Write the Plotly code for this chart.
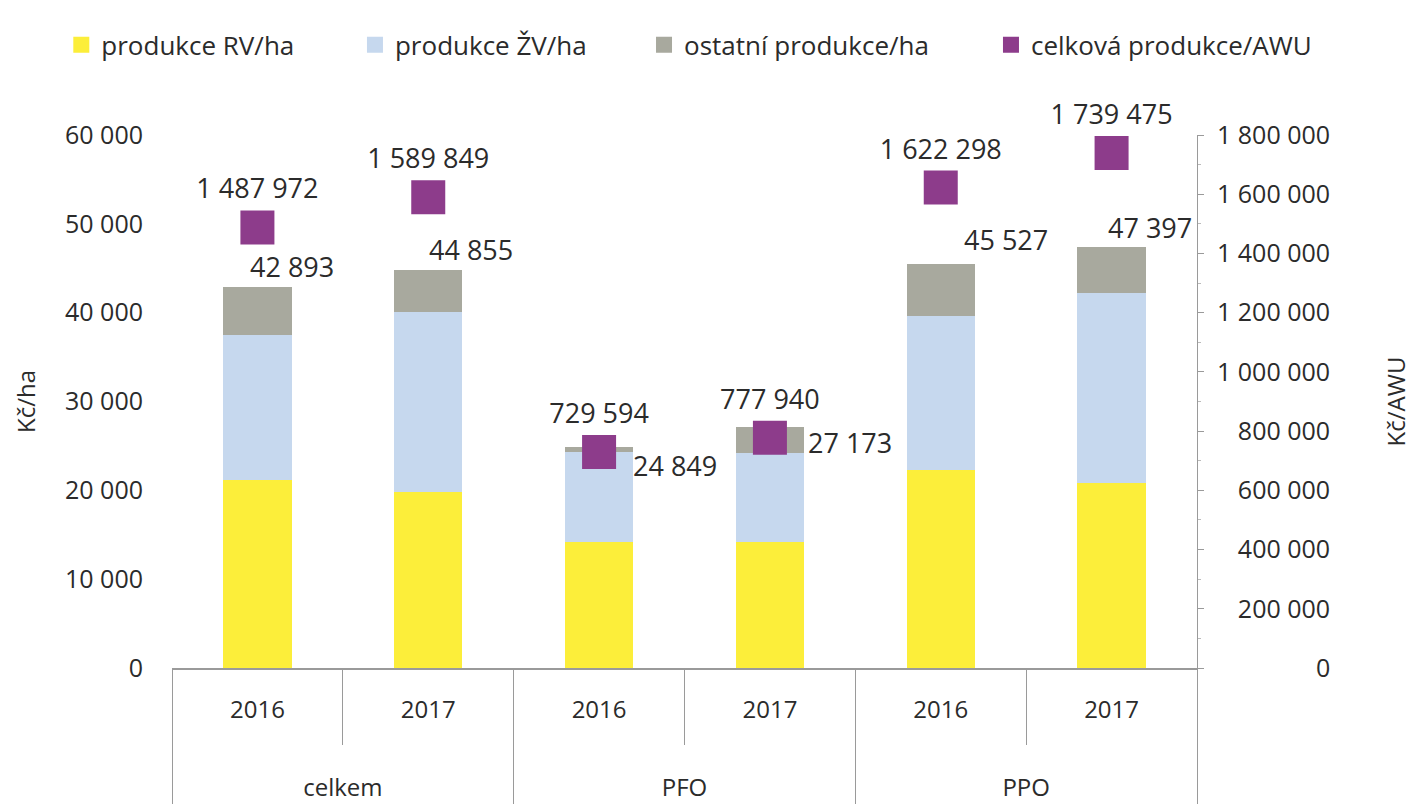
import plotly.graph_objects as go

groups = ["celkem", "celkem", "PFO", "PFO", "PPO", "PPO"]
years = ["2016", "2017", "2016", "2017", "2016", "2017"]

rv_ha = [21200, 19800, 14200, 14200, 22300, 20800]
zv_ha = [16300, 20300, 10100, 10000, 17300, 21400]
other_ha = [5393, 4755, 549, 2973, 5927, 5197]
total_ha = [42893, 44855, 24849, 27173, 45527, 47397]
total_awu = [1487972, 1589849, 729594, 777940, 1622298, 1739475]

series_names = ["produkce RV/ha", "produkce ŽV/ha", "ostatní produkce/ha", "celková produkce/AWU"]
series_colors = ["#fcee3a", "#c6d8ee", "#a8a99e", "#8d3c8b"]

left_ticks = [0, 10000, 20000, 30000, 40000, 50000, 60000]
right_ticks = [0, 200000, 400000, 600000, 800000, 1000000, 1200000, 1400000, 1600000, 1800000]

FONT = "Open Sans"
TXT = "#2b2b2b"


def fmt(v):
    return f"{v:,}".replace(",", " ")


def pad(s, width):
    n_digits = sum(c.isdigit() for c in s)
    n_sp = s.count(" ")
    tgt_d = sum(c.isdigit() for c in width)
    tgt_s = width.count(" ")
    return "\u2007" * (tgt_d - n_digits) + "\u2008" * (tgt_s - n_sp) + s


x = [["<br><br>" + g for g in groups], years]

fig = go.Figure()
for vals, name, col in zip([rv_ha, zv_ha, other_ha], series_names[:3], series_colors[:3]):
    fig.add_trace(go.Bar(x=x, y=vals, name=name, marker_color=col, width=0.4,
                         yaxis="y", showlegend=False))
fig.add_trace(go.Scatter(x=x, y=total_awu, name=series_names[3], mode="markers+text",
                         marker=dict(symbol="square", size=34, color=series_colors[3]),
                         text=[fmt(v) for v in total_awu], textposition="top center",
                         textfont=dict(size=27, color=TXT, family=FONT),
                         yaxis="y2", cliponaxis=False, showlegend=False))

# legend entries: one small legend per series, spaced like the reference
legend_ids = ["legend", "legend2", "legend3", "legend4"]
legend_x = [-0.108, 0.1785, 0.4605, 0.799]
for name, col, lid in zip(series_names, series_colors, legend_ids):
    fig.add_trace(go.Scatter(x=[None], y=[None], mode="markers", name=name,
                             marker=dict(symbol="square", size=17, color=col),
                             showlegend=True, legend=lid))

tot_shift = [(35, 20), (43, 20), (76, -18), (80, -16), (65, 24), (38, 19)]
for i, v in enumerate(total_ha):
    fig.add_annotation(x=[x[0][i], years[i]], y=v, xref="x", yref="y", text=fmt(v),
                       showarrow=False, xshift=tot_shift[i][0], yshift=tot_shift[i][1],
                       font=dict(size=27, color=TXT, family=FONT))

right_txt = [pad(fmt(v), fmt(right_ticks[-1])) for v in right_ticks]

legend_style = dict(orientation="h", y=1.169, xanchor="left", yanchor="middle",
                    font=dict(size=26, color=TXT), itemsizing="trace", itemwidth=30,
                    bgcolor="rgba(0,0,0,0)")
legends = {lid: dict(legend_style, x=lx) for lid, lx in zip(legend_ids, legend_x)}

fig.update_layout(
    template="none",
    width=1406, height=798,
    barmode="stack",
    plot_bgcolor="white", paper_bgcolor="white",
    margin=dict(l=164, r=217, t=127, b=138, autoexpand=False),
    font=dict(family=FONT, size=25, color=TXT),
    separators=", ",
    showlegend=True,
    xaxis=dict(type="multicategory", showline=True, linecolor="#9a9a9a", linewidth=1.5,
               ticks="outside", ticklen=75, tickcolor="#9a9a9a", tickwidth=1,
               showdividers=True, dividercolor="#9a9a9a", dividerwidth=1,
               ticklabelstandoff=19, automargin=False,
               tickfont=dict(size=24, color=TXT), showgrid=False),
    yaxis=dict(range=[0, 60000], tickvals=left_ticks, tickformat=",d", showgrid=False,
               zeroline=False, showline=False, ticks="", ticklabelstandoff=28,
               tickfont=dict(size=25), automargin=False,
               title=dict(text="Kč/ha", font=dict(size=24), standoff=22)),
    yaxis2=dict(range=[0, 1800000], overlaying="y", side="right", tickvals=right_ticks,
                ticktext=right_txt, showgrid=False, zeroline=False, showline=True,
                linecolor="#9a9a9a", linewidth=1, ticks="outside", ticklen=6,
                tickcolor="#9a9a9a", ticklabelstandoff=8, automargin=False,
                tickfont=dict(size=25),
                minor=dict(ticks="outside", ticklen=3, nticks=5, tickcolor="#bbbbbb"),
                title=dict(text="Kč/AWU", font=dict(size=24), standoff=58)),
    **legends,
)

fig.write_html("out.html")
